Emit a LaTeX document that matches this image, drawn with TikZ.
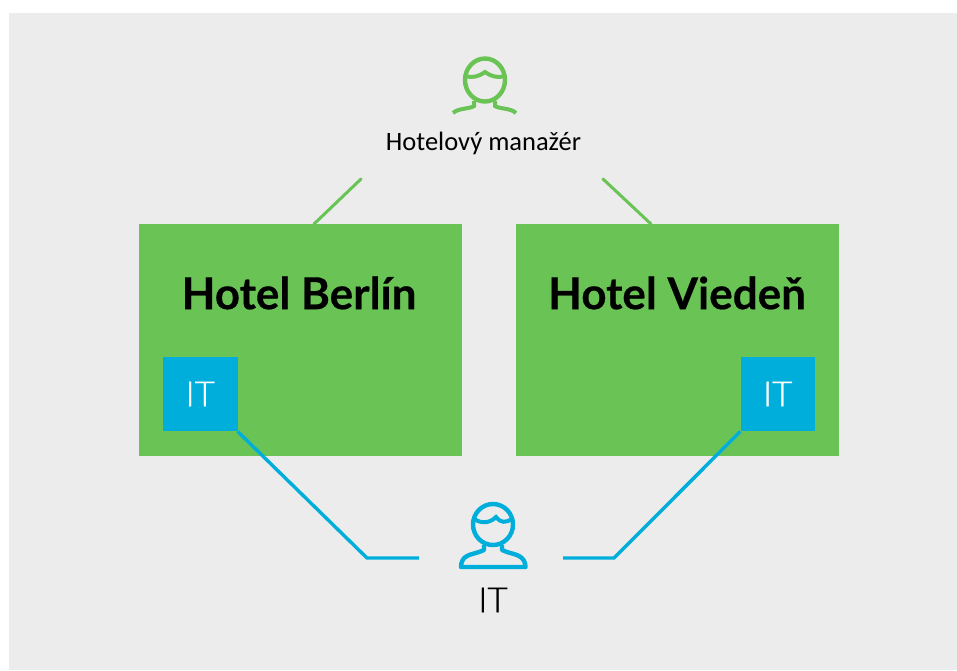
\documentclass[tikz,border=0pt]{standalone}
\usepackage{fontspec}
\setmainfont{Carlito}
\newfontfamily\hotelfont{Lato}[UprightFont=*-Bold, FakeBold=0.4]
\newfontfamily\itfont{Lato}[UprightFont=*-Light, FakeBold=0.5]
\definecolor{panel}{HTML}{ECECEC}
\definecolor{hotelgreen}{HTML}{6AC355}
\definecolor{itblue}{HTML}{00AEDB}
\tikzset{
	hotelbox/.style={fill=hotelgreen, minimum width=323.5pt, minimum height=232pt, inner sep=0pt},
	itbox/.style={fill=itblue, text=white, minimum size=74.5pt, inner sep=0pt, font=\itfont\fontsize{35}{35}\selectfont},
	hotelname/.style={font=\hotelfont\fontsize{44}{44}\selectfont, inner sep=0pt},
	greenline/.style={hotelgreen, line width=3pt},
	blueline/.style={itblue, line width=3.4pt},
}
\begin{document}
\begin{tikzpicture}[x=1pt, y=-1pt]
	\useasboundingbox (0,0) rectangle (957,670);
	\fill[panel] (9,13) rectangle (957,670);

	% hotels
	\node[hotelbox] (berlin) at (300.25,340) {};
	\node[hotelbox] (vienna) at (677.25,340) {};
	\node[hotelname] (berlinname) at (299,293) {Hotel Berlín};
	\node[hotelname] (viennaname) at (677,293) {Hotel Viedeň};

	% it boxes
	\node[itbox] (itberlin) at (200.25,394) {IT};
	\node[itbox] (itvienna) at (777.75,394) {IT};

	% manager
	\draw[hotelgreen, line width=4.4pt] (485,80) ellipse (20 and 21.5);
	\draw[hotelgreen, line width=4pt] (465,76) .. controls (472,78) and (478,77) .. (485,72) .. controls (492,77) and (498,78) .. (505,76);
	\draw[hotelgreen, line width=4pt] (474,101) -- (474,106) .. controls (470,109) and (458,108) .. (453,113);
	\draw[hotelgreen, line width=4pt] (495,101) -- (495,106) .. controls (499,109) and (511,108) .. (516,113);
	\node[font=\fontsize{26.5}{26.5}\selectfont, inner sep=0pt] (manager) at (483.5,143) {Hotelový manažér};
	\coordinate (mgrleft) at (361,179);
	\coordinate (mgrright) at (603,179);
	\coordinate (berlintop) at (314,224);
	\coordinate (viennatop) at (651,224);
	\draw[greenline, line cap=round] (mgrleft) -- (berlintop);
	\draw[greenline, line cap=round] (mgrright) -- (viennatop);

	% it person
	\draw[itblue, line width=4.4pt] (493,524.5) ellipse (20 and 20.5);
	\draw[itblue, line width=4pt] (474,519) .. controls (482,524) and (490,523) .. (496,517) .. controls (501,523) and (505,523) .. (512,519);
	\draw[itblue, line width=4.4pt, line join=round] (484,545) -- (484,550) .. controls (478,553) and (470,554) .. (467,556) .. controls (463,558) and (461,562) .. (461,567) -- (525.5,567) .. controls (525.5,562) and (523,558) .. (519,556) .. controls (516,554) and (508,553) .. (502,550) -- (502,545);
	\node[font=\itfont\fontsize{35}{35}\selectfont, inner sep=0pt] (itlabel) at (493,600) {IT};
	\coordinate (leftbend) at (367,558);
	\coordinate (leftend) at (419,558);
	\coordinate (rightbend) at (614,558);
	\coordinate (rightend) at (563,558);
	\draw[blueline] (itberlin.south east) -- (leftbend) -- (leftend);
	\draw[blueline] (itvienna.south west) -- (rightbend) -- (rightend);
\end{tikzpicture}
\end{document}
